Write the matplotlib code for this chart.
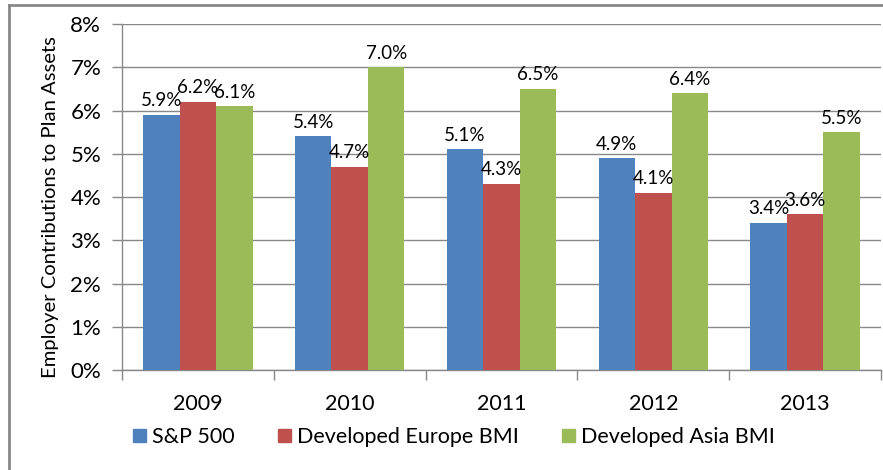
import matplotlib
matplotlib.use("Agg")
import matplotlib.pyplot as plt
from matplotlib.lines import Line2D
import numpy as np

years = ["2009", "2010", "2011", "2012", "2013"]
series_names = ["S&P 500", "Developed Europe BMI", "Developed Asia BMI"]
sp500 = [5.9, 5.4, 5.1, 4.9, 3.4]
europe = [6.2, 4.7, 4.3, 4.1, 3.6]
asia = [6.1, 7.0, 6.5, 6.4, 5.5]
colors = ["#4F81BD", "#C0504D", "#9BBB59"]

plt.rcParams['font.family'] = ['Lato', 'DejaVu Sans']

fig = plt.figure(figsize=(8.83, 4.70), dpi=100)
ax = fig.add_axes([122/883, 1-370/470, (881-122)/883, (370-24)/470])

x = np.arange(len(years))
w = 0.24
for i, (vals, name, c) in enumerate(zip([sp500, europe, asia], series_names, colors)):
    xs = x + (i - 1) * w
    ax.bar(xs, vals, width=w, color=c, label=name, zorder=3)
    for xi, v in zip(xs, vals):
        ax.annotate(f"{v:.1f}%", (xi, v), xytext=(0, 4), textcoords="offset points",
                    ha="center", va="bottom", fontsize=13.5, color="black", zorder=4)

ax.set_xlim(-0.5, len(years) - 0.5)
ax.set_ylim(0, 8)
ax.set_yticks(range(0, 9))
ax.set_yticklabels([f"{v}%" for v in range(0, 9)], fontsize=16)
ax.set_xticks(x)
ax.set_xticklabels(years, fontsize=15.5)
ax.set_xticks(np.arange(-0.5, len(years)), minor=True)
ax.tick_params(axis="x", which="major", length=0, pad=17)
ax.tick_params(axis="x", which="minor", length=7, color="#888888", width=1)
ax.tick_params(axis="y", length=7, color="#888888", width=1, pad=8)
ax.grid(axis="y", color="#888888", linewidth=1, zorder=0)
for s in ["top", "right"]:
    ax.spines[s].set_visible(False)
for s in ["left", "bottom"]:
    ax.spines[s].set_color("#888888")
    ax.spines[s].set_linewidth(1)
ax.set_ylabel("Employer Contributions to Plan Assets", fontsize=14.6)
ax.yaxis.set_label_coords(-(122 - 59) / 759, 0.471)

handles = [plt.Rectangle((0, 0), 1, 1, color=c) for c in colors]
fig.legend(handles, series_names, loc="center", bbox_to_anchor=(454/883, 1-437/470),
           ncol=3, frameon=False, fontsize=15.5, handlelength=0.6, handleheight=0.6,
           handletextpad=0.3, columnspacing=2.0)

# outer chart frame (cropped)
fig.add_artist(Line2D([9/883, 9/883], [0, 1-5/470], transform=fig.transFigure,
                      color="#888888", linewidth=2))
fig.add_artist(Line2D([9/883, 1], [1-5/470, 1-5/470], transform=fig.transFigure,
                      color="#888888", linewidth=2))

fig.savefig("out.png", dpi=100)
